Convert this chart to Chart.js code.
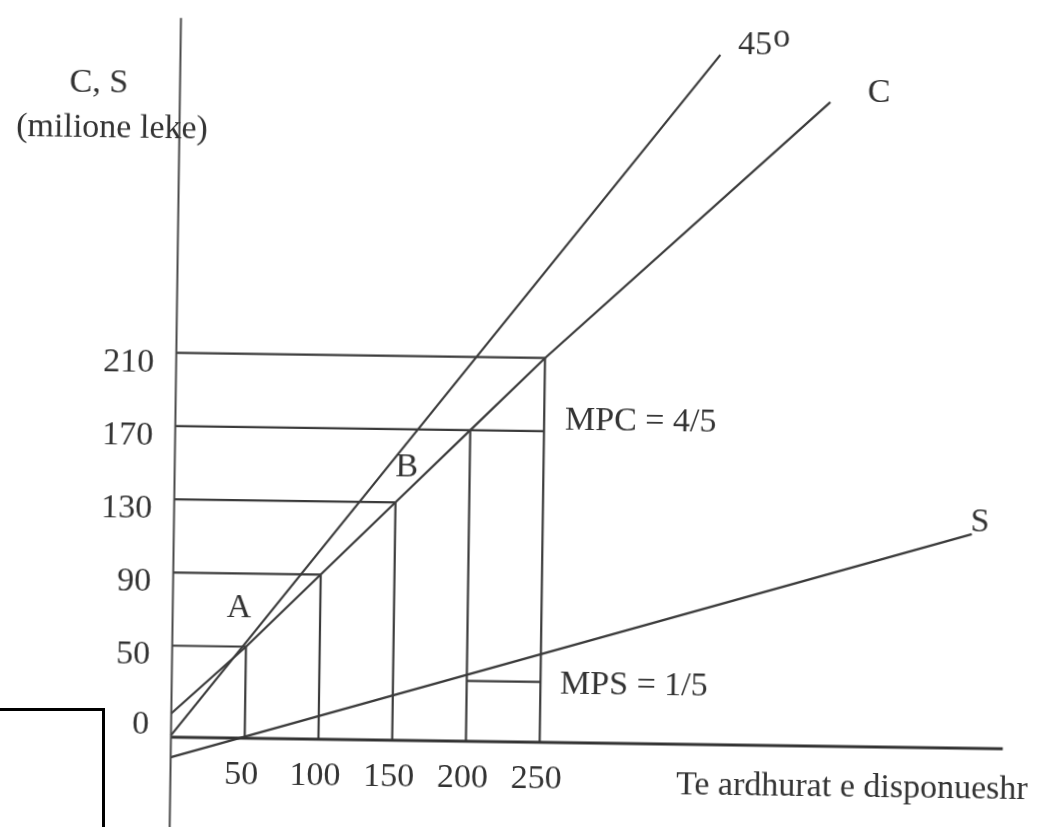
<!DOCTYPE html>
<html>
<head>
<meta charset="utf-8">
<script src="https://cdn.jsdelivr.net/npm/chart.js@4.4.1/dist/chart.umd.min.js"></script>
<style>
  html, body { margin: 0; padding: 0; background: #fff; overflow: hidden; width: 1040px; height: 827px; }
  #wrap { position: absolute; left: -20px; top: -20px; width: 1080px; height: 867px; transform: rotate(0.8deg); }
  #box { position: absolute; left: -10px; top: 708px; width: 109px; height: 140px; border: 3px solid #000; background: #fff; }
</style>
</head>
<body>
<div id="wrap"><canvas id="c" width="1080" height="867"></canvas></div>
<div id="box"></div>
<script>
// ---- data ----
const incomeTicks = [50, 100, 150, 200, 250];          // disposable income (x tick labels)
const consumptionLevels = [50, 90, 130, 170, 210];     // consumption at those incomes (y tick labels)
const yTickLabels = [0, 50, 90, 130, 170, 210];
const guideRightEnd = [50, 100, 150, 250, 250];        // income where each horizontal guide stops
const cLineX = [0, 50, 100, 150, 200, 250, 441];       // consumption function C
const cLineY = [13, 50, 90, 130, 170, 210, 352];
const line45X = [0, 366];                              // 45 degree line
const line45Y = [1, 377];
const sLineX = [0, 541];                               // saving function S
const sLineY = [-11, 117];
const mpsX = [200, 250];                               // MPS step
const mpsLevel = 33;
const axisTop = 393, axisBottom = -57, axisRight = 564;

// ---- build datasets ----
const ink = '#3b3b3b';
function seg(xs, ys, w, col) {
  return { data: xs.map((x, i) => ({ x: x, y: ys[i] })), showLine: true, borderColor: col || ink,
           borderWidth: w || 2.2, pointRadius: 0, fill: false, tension: 0 };
}
const datasets = [];
datasets.push(seg([0, 0], [axisBottom, axisTop], 2, '#4a4a4a'));      // vertical axis
datasets.push(seg([0, axisRight], [0, 0], 2.8, '#333'));              // horizontal axis
consumptionLevels.forEach((c, i) => {
  datasets.push(seg([0, guideRightEnd[i]], [c, c], 2.2));            // horizontal guides
  datasets.push(seg([incomeTicks[i], incomeTicks[i]], [0, c], 2.2)); // vertical guides
});
datasets.push(seg(mpsX, [mpsLevel, mpsLevel], 2.4));
datasets.push(seg(line45X, line45Y, 2.2));
datasets.push(seg(cLineX, cLineY, 2.2));
datasets.push(seg(sLineX, sLineY, 2.4));

// ---- text annotations (anchors in data units) ----
const FONT = '34px "Liberation Serif", "Times New Roman", serif';
const notes = [
  { t: 'C, S', x: -55.0, y: 356.9, a: 'center' },
  { t: '(milione leke)', x: -45.7, y: 332.1, a: 'center' },
  { t: 'C', x: 473.9, y: 357.4, a: 'center' },
  { t: 'S', x: 546.4, y: 123.7, a: 'center' },
  { t: 'A', x: 44.9, y: 71.1, a: 'center' },
  { t: 'B', x: 157.4, y: 149.4, a: 'center' },
  { t: 'MPC = 4/5', x: 264.1, y: 175.7, a: 'left' },
  { t: 'MPS = 1/5', x: 263.3, y: 31.5, a: 'left' },
  { t: 'Te ardhurat e disponueshr', x: 342.8, y: -22.3, a: 'left' }
];

const textPlugin = {
  id: 'texts',
  afterDatasetsDraw(chart) {
    const ctx = chart.ctx, sx = chart.scales.x, sy = chart.scales.y;
    ctx.save();
    ctx.fillStyle = '#333';
    ctx.font = FONT;
    ctx.textBaseline = 'middle';
    notes.forEach(n => {
      ctx.textAlign = n.a;
      ctx.fillText(n.t, sx.getPixelForValue(n.x), sy.getPixelForValue(n.y));
    });
    // 45° label with raised "o"
    ctx.textAlign = 'left';
    const px = sx.getPixelForValue(377.9), py = sy.getPixelForValue(382.5);
    ctx.fillText('45', px, py);
    const w = ctx.measureText('45').width;
    ctx.fillText('o', px + w + 1, py - 8);
    // x tick labels
    ctx.textAlign = 'center';
    const y0 = sy.getPixelForValue(0);
    incomeTicks.forEach(v => ctx.fillText(String(v), sx.getPixelForValue(v) - 3, y0 + 37));
    // y tick labels
    ctx.textAlign = 'right';
    const ax = sx.getPixelForValue(0);
    yTickLabels.forEach(v => ctx.fillText(String(v), ax - 22, sy.getPixelForValue(v) + (v === 0 ? -12 : 10)));
    ctx.restore();
  }
};

new Chart(document.getElementById('c'), {
  type: 'scatter',
  data: { datasets: datasets },
  options: {
    responsive: false,
    animation: false,
    layout: { padding: 0 },
    plugins: { legend: { display: false }, tooltip: { enabled: false } },
    scales: {
      x: { type: 'linear', display: false, min: -132.54, max: 599.66 },
      y: { type: 'linear', display: false, min: -57.38, max: 416.39 }
    }
  },
  plugins: [textPlugin]
});
</script>
</body>
</html>
